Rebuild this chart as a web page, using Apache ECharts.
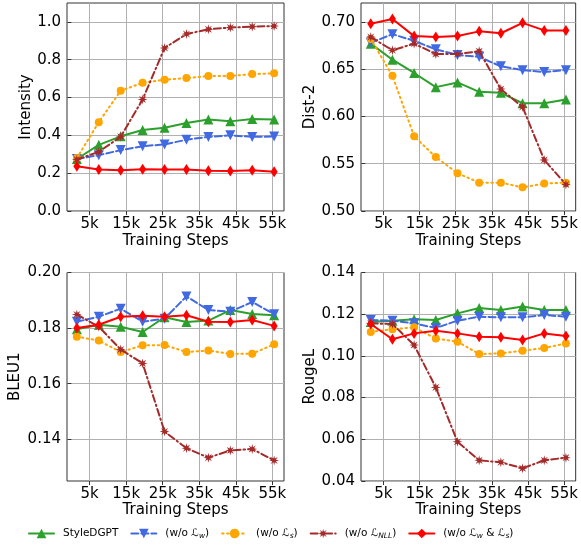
<!DOCTYPE html>
<html>
<head>
<meta charset="utf-8">
<script src="https://cdn.jsdelivr.net/npm/echarts@6/dist/echarts.min.js"></script>
<style>html,body{margin:0;padding:0;background:#fff}#c{width:581px;height:546px}</style>
</head>
<body>
<div id="c"></div>
<script>
// Training steps (in thousands) of each evaluation point
const steps = [1.5, 7.5, 13.5, 19.5, 25.5, 31.5, 37.5, 43.5, 49.5, 55.5];
const xTicks = [5, 15, 25, 35, 45, 55];
const seriesNames = ['StyleDGPT', '(w/o Lw)', '(w/o Ls)', '(w/o LNLL)', '(w/o Lw & Ls)'];

// Intensity
const intStyle  = [0.275, 0.35, 0.395, 0.428, 0.44, 0.465, 0.484, 0.474, 0.486, 0.484];
const intNoLw   = [0.275, 0.295, 0.322, 0.343, 0.352, 0.377, 0.392, 0.40, 0.392, 0.394];
const intNoLs   = [0.28, 0.47, 0.636, 0.678, 0.694, 0.703, 0.714, 0.714, 0.724, 0.728];
const intNoNLL  = [0.272, 0.313, 0.393, 0.59, 0.862, 0.936, 0.961, 0.97, 0.975, 0.978];
const intNoBoth = [0.237, 0.219, 0.216, 0.221, 0.219, 0.219, 0.213, 0.212, 0.216, 0.207];

// Dist-2
const distStyle  = [0.677, 0.66, 0.646, 0.631, 0.636, 0.626, 0.625, 0.614, 0.614, 0.618];
const distNoLw   = [0.678, 0.687, 0.680, 0.671, 0.665, 0.663, 0.653, 0.649, 0.647, 0.649];
const distNoLs   = [0.682, 0.643, 0.579, 0.557, 0.540, 0.530, 0.530, 0.525, 0.529, 0.530];
const distNoNLL  = [0.684, 0.670, 0.677, 0.666, 0.666, 0.669, 0.629, 0.610, 0.554, 0.528];
const distNoBoth = [0.698, 0.703, 0.685, 0.684, 0.685, 0.690, 0.688, 0.699, 0.691, 0.691];

// BLEU1
const bleuStyle  = [0.1796, 0.1812, 0.1805, 0.1786, 0.1839, 0.1822, 0.1827, 0.1865, 0.1851, 0.1846];
const bleuNoLw   = [0.1823, 0.1841, 0.1870, 0.1823, 0.1834, 0.1914, 0.1865, 0.1859, 0.1894, 0.1850];
const bleuNoLs   = [0.1769, 0.1755, 0.1714, 0.1738, 0.1739, 0.1714, 0.1719, 0.1707, 0.1708, 0.1742];
const bleuNoNLL  = [0.1849, 0.1805, 0.1723, 0.1673, 0.1428, 0.1368, 0.1334, 0.1360, 0.1365, 0.1324];
const bleuNoBoth = [0.1800, 0.1812, 0.1841, 0.1844, 0.1841, 0.1846, 0.1823, 0.1822, 0.1829, 0.1808];

// RougeL
const rougeStyle  = [0.1163, 0.1169, 0.1176, 0.1172, 0.1204, 0.1230, 0.1220, 0.1237, 0.1220, 0.1220];
const rougeNoLw   = [0.1172, 0.1169, 0.1156, 0.1134, 0.1169, 0.1188, 0.1185, 0.1185, 0.1196, 0.1188];
const rougeNoLs   = [0.1115, 0.1128, 0.1137, 0.1083, 0.1068, 0.1009, 0.1012, 0.1025, 0.1038, 0.1060];
const rougeNoNLL  = [0.1156, 0.1153, 0.1052, 0.0849, 0.0588, 0.0499, 0.0490, 0.0461, 0.0499, 0.0512];
const rougeNoBoth = [0.1153, 0.1080, 0.1108, 0.1121, 0.1108, 0.1092, 0.1089, 0.1076, 0.1108, 0.1096];

const panels = [
  {name: 'Intensity', data: [intStyle, intNoLw, intNoLs, intNoNLL, intNoBoth], min: 0, max: 1.1, ticks: [0, 0.2, 0.4, 0.6, 0.8, 1.0], dec: 1, gap: 33, xgap: 23},
  {name: 'Dist-2', data: [distStyle, distNoLw, distNoLs, distNoNLL, distNoBoth], min: 0.5, max: 0.72, ticks: [0.5, 0.55, 0.6, 0.65, 0.7], dec: 2, gap: 43, xgap: 23},
  {name: 'BLEU1', data: [bleuStyle, bleuNoLw, bleuNoLs, bleuNoNLL, bleuNoBoth], min: 0.125, max: 0.2, ticks: [0.14, 0.16, 0.18, 0.2], dec: 2, gap: 44, xgap: 20},
  {name: 'RougeL', data: [rougeStyle, rougeNoLw, rougeNoLs, rougeNoNLL, rougeNoBoth], min: 0.04, max: 0.14, ticks: [0.04, 0.06, 0.08, 0.1, 0.12, 0.14], dec: 2, gap: 43, xgap: 20}
];

const gridBoxes = [
  {left: 67, top: 3, width: 217, height: 208},
  {left: 361, top: 3, width: 217, height: 208},
  {left: 67, top: 272.5, width: 217, height: 208.5},
  {left: 361, top: 272.5, width: 217, height: 208.5}
];

const starPath = 'path://M10,0L11.53,6.3L17.07,2.93L13.7,8.47L20,10L13.7,11.53L17.07,17.07L11.53,13.7L10,20L8.47,13.7L2.93,17.07L6.3,11.53L0,10L6.3,8.47L2.93,2.93L8.47,6.3Z';
const styles = [
  {color: '#2ca02c', type: 'solid', symbol: 'triangle', size: 10, rotate: 0},
  {color: '#4169e1', type: [7, 3], symbol: 'triangle', size: 10, rotate: 180},
  {color: '#ffa500', type: [1.5, 3.5], symbol: 'circle', size: 8, rotate: 0},
  {color: '#a52a2a', type: [7, 3, 1.5, 3], symbol: starPath, size: 10, rotate: 0},
  {color: '#ff0000', type: 'solid', symbol: 'diamond', size: [7, 11], rotate: 0}
];

const FONT = 'DejaVu Sans';
const grids = [], xAxes = [], yAxes = [], series = [];
panels.forEach((p, i) => {
  grids.push(Object.assign({show: true, borderColor: '#333', borderWidth: 1, backgroundColor: 'transparent', containLabel: false}, gridBoxes[i]));
  xAxes.push({
    type: 'value', gridIndex: i, min: -1.2, max: 58.2,
    name: 'Training Steps', nameLocation: 'middle', nameGap: p.xgap,
    nameTextStyle: {fontFamily: FONT, fontSize: 15, color: '#000'},
    axisLine: {show: false},
    axisTick: {show: true, length: 4, inside: false, lineStyle: {color: '#333'}, customValues: xTicks},
    axisLabel: {fontFamily: FONT, fontSize: 15, color: '#000', margin: 6, customValues: xTicks, formatter: v => v + 'k'},
    splitLine: {show: true, lineStyle: {color: '#b0b0b0', width: 1}}
  });
  yAxes.push({
    type: 'value', gridIndex: i, min: p.min, max: p.max,
    name: p.name, nameLocation: 'middle', nameGap: p.gap, nameRotate: 90,
    nameTextStyle: {fontFamily: FONT, fontSize: 15, color: '#000'},
    axisLine: {show: false},
    axisTick: {show: true, length: 4, lineStyle: {color: '#333'}, customValues: p.ticks},
    axisLabel: {fontFamily: FONT, fontSize: 15, color: '#000', margin: 6, customValues: p.ticks, formatter: v => v.toFixed(p.dec)},
    splitLine: {show: true, lineStyle: {color: '#b0b0b0', width: 1}}
  });
  p.data.forEach((vals, k) => {
    const s = styles[k];
    series.push({
      name: seriesNames[k], type: 'line', xAxisIndex: i, yAxisIndex: i,
      data: steps.map((x, j) => [x, vals[j]]),
      symbol: s.symbol, symbolSize: s.size, symbolRotate: s.rotate, showSymbol: true,
      lineStyle: {color: s.color, width: 2, type: s.type, cap: 'round'},
      itemStyle: {color: s.color},
      animation: false, z: 2 + k
    });
  });
});

const legendMap = {
  'StyleDGPT': 'StyleDGPT',
  '(w/o Lw)': '(w/o {cal|ℒ}{sub|w})',
  '(w/o Ls)': '(w/o {cal|ℒ}{sub|s})',
  '(w/o LNLL)': '(w/o {cal|ℒ}{sub|NLL})',
  '(w/o Lw & Ls)': '(w/o {cal|ℒ}{sub|w} & {cal|ℒ}{sub|s})'
};

const chart = echarts.init(document.getElementById('c'), null, {renderer: 'canvas'});
chart.setOption({
  animation: false,
  grid: grids, xAxis: xAxes, yAxis: yAxes, series: series,
  legend: {
    data: seriesNames, left: 28, top: 528, padding: 0, itemWidth: 25, itemHeight: 12, itemGap: 12,
    formatter: n => legendMap[n],
    textStyle: {fontFamily: FONT, fontSize: 10.5, color: '#000', padding: [0, 0, 0, 4],
      rich: {
        cal: {fontFamily: FONT, fontSize: 10.5, fontStyle: 'italic', color: '#000'},
        sub: {fontFamily: FONT, fontSize: 7.5, fontStyle: 'italic', color: '#000', verticalAlign: 'bottom', padding: [5, 0, 0, 0]}
      }
    }
  }
});
</script>
</body>
</html>
